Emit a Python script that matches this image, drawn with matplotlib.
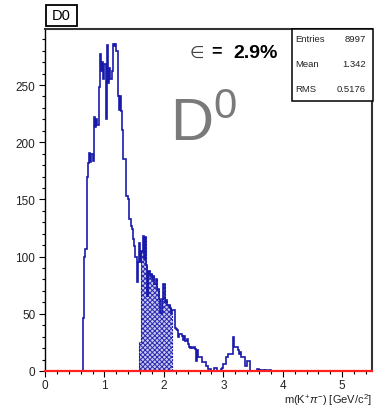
import numpy as np
import matplotlib
matplotlib.use("Agg")
import matplotlib.pyplot as plt
from matplotlib.patches import Rectangle
from matplotlib.ticker import MultipleLocator

plt.rcParams['font.family'] = ['Liberation Sans', 'DejaVu Sans']
plt.rcParams['mathtext.fontset'] = 'custom'
plt.rcParams['mathtext.rm'] = 'Liberation Sans'
plt.rcParams['mathtext.it'] = 'Liberation Sans:italic'
plt.rcParams['hatch.linewidth'] = 0.7

# ---- data: m(K+ pi-) spectrum, 0.02 GeV/c^2 bins starting at 0.64 ----
bin_start = 0.64
bin_width = 0.02
counts = [
    46, 100, 107, 170, 182, 191, 183, 190, 184, 222,
    213, 220, 215, 248, 277, 262, 270, 255, 268, 220,
    285, 252, 265, 255, 262, 286, 284, 286, 280, 240,
    228, 240, 227, 211, 185, 185, 153, 153, 150, 133,
    127, 124, 115, 109, 100, 78, 95, 112, 95, 105,
    118, 98, 117, 93, 66, 87, 83, 85, 80, 83,
    76, 80, 72, 72, 63, 51, 63, 76, 76, 60,
    62, 58, 58, 55, 51, 53, 53, 38, 37, 36,
    30, 32, 32, 31, 27, 31, 26, 28, 24, 21,
    20, 21, 20, 21, 19, 9, 18, 12, 12, 12,
    8, 8, 8, 4, 4, 2, 2, 2, 0, 0,
    3, 3, 3, 0, 0, 0, 2, 3, 6, 6,
    12, 12, 15, 15, 15, 15, 30, 21, 21, 21,
    18, 15, 17, 12, 12, 12, 4, 4, 9, 9,
    0, 0, 0, 0, 0, 0, 2, 2, 1, 0,
    1, 1, 0, 1, 1, 0, 1, 1,
]
# selected signal window (shaded), given as bin indices into counts
sel_first, sel_last = 47, 74
sel_low_bins = {47: 25, 48: 25}   # partially filled leading bins

entries, mean, rms = 8997, 1.342, 0.5176
efficiency = "2.9%"
hist_name = "D0"

x_range = (0.0, 5.5)
y_range = (0.0, 299.0)

# ---- figure ----
W, H = 374, 410
fig = plt.figure(figsize=(W / 100, H / 100), dpi=100)

def fx(px):
    return px / W

def fy(py):
    return 1 - py / H

ax = fig.add_axes([fx(45), fy(372), fx(372) - fx(45), fy(30) - fy(372)])

counts = np.asarray(counts, dtype=float)
edges = bin_start + bin_width * np.arange(len(counts) + 1)

sel = counts[sel_first:sel_last + 1].copy()
for k, v in sel_low_bins.items():
    sel[k - sel_first] = v
sel_edges = edges[sel_first:sel_last + 2]

blue = '#1a1aaa'
ax.stairs(sel, sel_edges, fill=True, facecolor='#c8c8ee', edgecolor='#2a2ab0',
          hatch='xxxxxxx', linewidth=0, zorder=1)
ax.stairs(sel, sel_edges, fill=False, edgecolor=blue, linewidth=0.8,
          linestyle=(0, (2, 1)), baseline=0, zorder=1.5)
ax.stairs(counts, edges, fill=False, edgecolor=blue, linewidth=1.2,
          baseline=0, zorder=2)

ax.set_xlim(*x_range)
ax.set_ylim(*y_range)

ax.xaxis.set_major_locator(MultipleLocator(1))
ax.xaxis.set_minor_locator(MultipleLocator(0.2))
ax.yaxis.set_major_locator(MultipleLocator(50))
ax.yaxis.set_minor_locator(MultipleLocator(10))
ax.tick_params(which='both', direction='out', colors='black', width=0.8,
               labelsize=8.5, labelcolor='#222222')
ax.tick_params(which='major', length=4.5)
ax.tick_params(which='minor', length=2.2)
ax.tick_params(axis='x', which='both', pad=1.5)
ax.tick_params(axis='y', which='both', pad=2.5)

for s in ('top', 'right'):
    ax.spines[s].set_color('#333333')
    ax.spines[s].set_linewidth(1.5)
ax.spines['left'].set_color('black')
ax.spines['left'].set_linewidth(1.0)
ax.spines['bottom'].set_color('#ff2020')
ax.spines['bottom'].set_linewidth(1.6)
ax.spines['bottom'].set_zorder(3)

fig.text(fx(372), fy(400), r'm(K$^{+}\pi^{-}$) [GeV/c$^{2}$]', ha='right',
         va='center', fontsize=8, color='#222222')

# histogram title box
fig.patches.append(Rectangle((fx(45.5), fy(27)), fx(77) - fx(45.5), fy(6) - fy(27),
                             transform=fig.transFigure, facecolor='white',
                             edgecolor='black', linewidth=1.3))
fig.text(fx(61), fy(16.5), hist_name, ha='center', va='center', fontsize=10.5)

# statistics box
fig.patches.append(Rectangle((fx(292), fy(102)), fx(372.5) - fx(292), fy(30) - fy(102),
                             transform=fig.transFigure, facecolor='white',
                             edgecolor='black', linewidth=1.1, zorder=5))
for row, (lab, val) in enumerate([("Entries", f"{entries}"),
                                  ("Mean", f"{mean:.3f}"),
                                  ("RMS", f"{rms:.4f}")]):
    yy = 40 + 24.5 * row
    fig.text(fx(295), fy(yy), lab, ha='left', va='center', fontsize=6.8,
             color='#222222', zorder=6)
    fig.text(fx(366), fy(yy), val, ha='right', va='center', fontsize=6.8,
             color='#222222', zorder=6)

# efficiency label
fig.text(fx(197), fy(53), '\u2208', ha='center', va='center', fontsize=12,
         color='#444444', family=['DejaVu Sans'])
fig.text(fx(216), fy(52), '=', ha='center', va='center', fontsize=13,
         fontweight='bold')
fig.text(fx(233), fy(53), efficiency, ha='left', va='center', fontsize=14,
         fontweight='bold')

# particle label
fig.text(fx(170), fy(125), r'D$^{0}$', ha='left', va='center', fontsize=43,
         color='#7a7a7a')

fig.savefig('out.png', dpi=100)
